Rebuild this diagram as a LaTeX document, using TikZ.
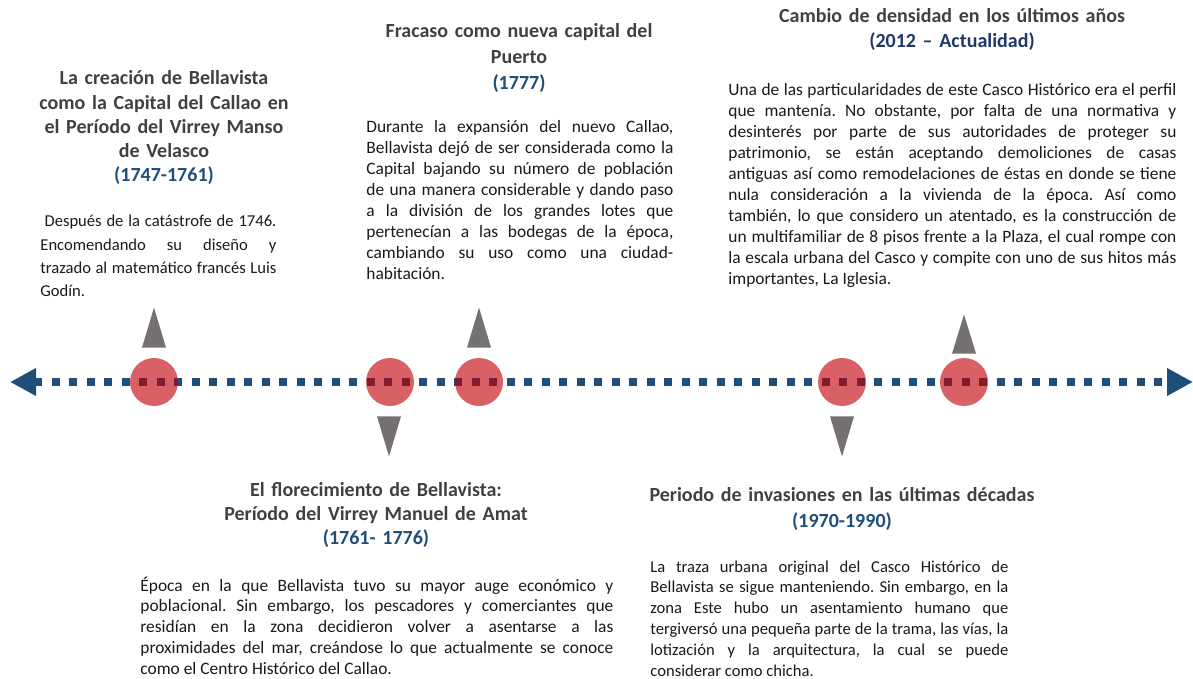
\documentclass[tikz,border=0pt]{standalone}
\usepackage{fontspec}
\setmainfont{Carlito}
\frenchspacing
\usetikzlibrary{shapes.geometric, arrows.meta, positioning}

\definecolor{lineblue}{RGB}{31,78,121}
\definecolor{navyblue}{RGB}{31,56,100}
\definecolor{dotred}{RGB}{217,96,100}
\definecolor{dotdark}{RGB}{132,28,48}
\definecolor{pointergray}{RGB}{118,113,113}
\definecolor{headgray}{RGB}{64,64,64}
\definecolor{bodyblack}{RGB}{25,25,25}

\begin{document}
\begin{tikzpicture}[x=0.5pt, y=-0.5pt,
    heading/.style={anchor=base, inner sep=0pt, align=center, text=headgray, font=\bfseries\fontsize{10}{12.5}\selectfont},
    body/.style={anchor=base west, inner sep=0pt, align=justify, text=bodyblack, font=\fontsize{8.7}{10.45}\selectfont},
    event/.style={circle, fill=dotred, minimum size=24pt, inner sep=0pt},
    pointer/.style={fill=pointergray},
    timeline/.style={line width=4pt, dash pattern=on 4pt off 4.75pt, {Triangle[length=13pt,width=13pt]}-{Triangle[length=13pt,width=13pt]}}]
        \useasboundingbox (0,0) rectangle (1193,679);

        % Define nodes
        \coordinate (past) at (10,382);
        \coordinate (today) at (1193,382);
        \draw[timeline, lineblue] (past) -- (today);

        \node (p1747) [event] at (154,382) {};
        \node (p1761) [event] at (390,382) {};
        \node (p1777) [event] at (479,382) {};
        \node (p1970) [event] at (842,382) {};
        \node (p2012) [event] at (964,382) {};

        % dots seen through the circles
        \begin{scope}
            \clip (p1747) circle[radius=24] (p1761) circle[radius=24] (p1777) circle[radius=24] (p1970) circle[radius=24] (p2012) circle[radius=24];
            \draw[timeline, dotdark] (past) -- (today);
        \end{scope}

        % Draw pointers
        \fill[pointer] (p1747.north) ++(-12,-10) -- ++(24,0) -- ++(-12,-40) -- cycle;
        \fill[pointer] (p1777.north) ++(-12,-10) -- ++(24,0) -- ++(-12,-40) -- cycle;
        \fill[pointer] (p2012.north) ++(-12,-4) -- ++(24,0) -- ++(-12,-39) -- cycle;
        \fill[pointer] (p1761.south) ++(-13,10) -- ++(24,0) -- ++(-12,40) -- cycle;
        \fill[pointer] (p1970.south) ++(-12,10) -- ++(24,0) -- ++(-12,40) -- cycle;

        % Upper texts
        \node (head1747) [heading, text width=140pt, font=\bfseries\fontsize{10}{12.1}\selectfont] at (164,85) {La creación de Bellavista\\como la Capital del Callao en\\el Período del Virrey Manso\\de Velasco\\\textcolor{lineblue}{(1747-1761)}};
        \node (text1747) [body, text width=118pt, font=\fontsize{8.3}{11.65}\selectfont] at (40,227) {\hspace*{0.25em}Después de la catástrofe de 1746.\linebreak
            Encomendando su diseño y\linebreak
            trazado al matemático francés Luis\linebreak
            Godín.};

        \node (head1777) [heading, text width=160pt, font=\bfseries\fontsize{10}{12.9}\selectfont] at (519,38) {Fracaso como nueva capital del\\Puerto\\\textcolor{lineblue}{(1777)}};
        \node (text1777) [body, text width=153.5pt] at (366,133) {Durante la expansión del nuevo Callao,\linebreak
            Bellavista dejó de ser considerada como la\linebreak
            Capital bajando su número de población\linebreak
            de una manera considerable y dando paso\linebreak
            a la división de los grandes lotes que\linebreak
            pertenecían a las bodegas de la época,\linebreak
            cambiando su uso como una ciudad-\linebreak
            habitación.};

        \node (head2012) [heading, text width=220pt] at (952,23) {Cambio de densidad en los últimos años\\\textcolor{navyblue}{(2012 – Actualidad)}};
        \node (text2012) [body, text width=224pt] at (728,96) {Una de las particularidades de este Casco Histórico era el perfil\linebreak
            que mantenía. No obstante, por falta de una normativa y\linebreak
            desinterés por parte de sus autoridades de proteger su\linebreak
            patrimonio, se están aceptando demoliciones de casas\linebreak
            antiguas así como remodelaciones de éstas en donde se tiene\linebreak
            nula consideración a la vivienda de la época. Así como\linebreak
            también, lo que considero un atentado, es la construcción de\linebreak
            un multifamiliar de 8 pisos frente a la Plaza, el cual rompe con\linebreak
            la escala urbana del Casco y compite con uno de sus hitos más\linebreak
            importantes, La Iglesia.};

        % Lower texts
        \node (head1761) [heading, text width=200pt, font=\bfseries\fontsize{10}{12}\selectfont] at (376,496) {El florecimiento de Bellavista:\\Período del Virrey Manuel de Amat\\\textcolor{lineblue}{(1761- 1776)}};
        \node (text1761) [body, text width=236.5pt] at (140,591) {Época en la que Bellavista tuvo su mayor auge económico y\linebreak
            poblacional. Sin embargo, los pescadores y comerciantes que\linebreak
            residían en la zona decidieron volver a asentarse a las\linebreak
            proximidades del mar, creándose lo que actualmente se conoce\linebreak
            como el Centro Histórico del Callao.};

        \node (head1970) [heading, text width=220pt, font=\bfseries\fontsize{10}{13}\selectfont] at (842,501) {Periodo de invasiones en las últimas décadas\\\textcolor{lineblue}{(1970-1990)}};
        \node (text1970) [body, text width=179pt, font=\fontsize{8.3}{10.45}\selectfont] at (650,572) {La traza urbana original del Casco Histórico de\linebreak
            Bellavista se sigue manteniendo. Sin embargo, en la\linebreak
            zona Este hubo un asentamiento humano que\linebreak
            tergiversó una pequeña parte de la trama, las vías, la\linebreak
            lotización y la arquitectura, la cual se puede\linebreak
            considerar como chicha.};
    \end{tikzpicture}
\end{document}
